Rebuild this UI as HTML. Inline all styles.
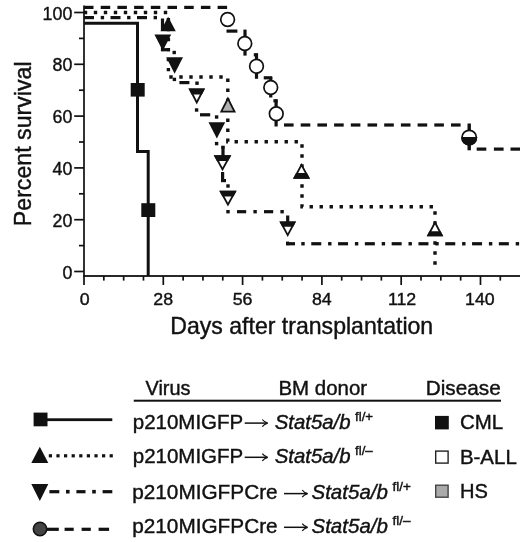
<!DOCTYPE html>
<html><head><meta charset="utf-8"><title>Survival</title>
<style>
html,body{margin:0;padding:0;background:#fff;}
svg{display:block;}
text{font-family:"Liberation Sans",sans-serif;fill:#111;stroke:#111;stroke-width:0.4px;}
</style></head><body>
<svg width="520" height="542" viewBox="0 0 520 542">
<rect width="520" height="542" fill="#fff"/>
<rect x="83.15" y="5.50" width="1.70" height="271.50" fill="#111"/>
<rect x="83.15" y="275.10" width="436.85" height="1.80" fill="#111"/>
<rect x="74.20" y="270.65" width="9.80" height="1.70" fill="#111"/>
<rect x="79.00" y="244.75" width="5.00" height="1.70" fill="#111"/>
<rect x="74.20" y="218.85" width="9.80" height="1.70" fill="#111"/>
<rect x="79.00" y="192.95" width="5.00" height="1.70" fill="#111"/>
<rect x="74.20" y="167.05" width="9.80" height="1.70" fill="#111"/>
<rect x="79.00" y="141.15" width="5.00" height="1.70" fill="#111"/>
<rect x="74.20" y="115.25" width="9.80" height="1.70" fill="#111"/>
<rect x="79.00" y="89.35" width="5.00" height="1.70" fill="#111"/>
<rect x="74.20" y="63.45" width="9.80" height="1.70" fill="#111"/>
<rect x="79.00" y="37.55" width="5.00" height="1.70" fill="#111"/>
<rect x="74.20" y="11.65" width="9.80" height="1.70" fill="#111"/>
<rect x="83.15" y="276.00" width="1.70" height="9.00" fill="#111"/>
<rect x="102.97" y="276.00" width="1.70" height="4.60" fill="#111"/>
<rect x="122.80" y="276.00" width="1.70" height="4.60" fill="#111"/>
<rect x="142.62" y="276.00" width="1.70" height="4.60" fill="#111"/>
<rect x="162.45" y="276.00" width="1.70" height="9.00" fill="#111"/>
<rect x="182.27" y="276.00" width="1.70" height="4.60" fill="#111"/>
<rect x="202.09" y="276.00" width="1.70" height="4.60" fill="#111"/>
<rect x="221.92" y="276.00" width="1.70" height="4.60" fill="#111"/>
<rect x="241.74" y="276.00" width="1.70" height="9.00" fill="#111"/>
<rect x="261.57" y="276.00" width="1.70" height="4.60" fill="#111"/>
<rect x="281.39" y="276.00" width="1.70" height="4.60" fill="#111"/>
<rect x="301.21" y="276.00" width="1.70" height="4.60" fill="#111"/>
<rect x="321.04" y="276.00" width="1.70" height="9.00" fill="#111"/>
<rect x="340.86" y="276.00" width="1.70" height="4.60" fill="#111"/>
<rect x="360.69" y="276.00" width="1.70" height="4.60" fill="#111"/>
<rect x="380.51" y="276.00" width="1.70" height="4.60" fill="#111"/>
<rect x="400.33" y="276.00" width="1.70" height="9.00" fill="#111"/>
<rect x="420.16" y="276.00" width="1.70" height="4.60" fill="#111"/>
<rect x="439.98" y="276.00" width="1.70" height="4.60" fill="#111"/>
<rect x="459.81" y="276.00" width="1.70" height="4.60" fill="#111"/>
<rect x="479.63" y="276.00" width="1.70" height="9.00" fill="#111"/>
<rect x="499.45" y="276.00" width="1.70" height="4.60" fill="#111"/>
<path d="M84,23.2 H137.5 V151.5 H148.2 V276" fill="none" stroke="#111" stroke-width="3"/>
<rect x="130.7" y="83" width="14" height="13.6" fill="#111"/>
<rect x="141.3" y="203.2" width="14" height="13.8" fill="#111"/>
<path d="M84,12.5 H168.4 V77 H227.8 V141.75 H302 V206.75 H435 V266" fill="none" stroke="#111" stroke-width="3.4" stroke-dasharray="3.4 6.6" stroke-dashoffset="0.2"/>
<rect x="84.00" y="5.80" width="9.50" height="3.20" fill="#111"/>
<rect x="100.70" y="5.80" width="9.50" height="3.20" fill="#111"/>
<rect x="117.40" y="5.80" width="9.50" height="3.20" fill="#111"/>
<rect x="134.10" y="5.80" width="9.50" height="3.20" fill="#111"/>
<rect x="150.80" y="5.80" width="9.50" height="3.20" fill="#111"/>
<rect x="167.50" y="5.80" width="9.50" height="3.20" fill="#111"/>
<rect x="184.20" y="5.80" width="9.50" height="3.20" fill="#111"/>
<rect x="200.90" y="5.80" width="9.50" height="3.20" fill="#111"/>
<rect x="217.60" y="5.80" width="9.50" height="3.20" fill="#111"/>
<rect x="226.50" y="29.50" width="10.90" height="3.20" fill="#111"/>
<rect x="243.40" y="29.60" width="3.20" height="26.00" fill="#111"/>
<rect x="254.90" y="53.50" width="3.20" height="25.30" fill="#111"/>
<rect x="253.80" y="53.20" width="4.20" height="3.20" fill="#111"/>
<rect x="263.75" y="76.20" width="8.45" height="3.20" fill="#111"/>
<rect x="269.15" y="77.00" width="3.20" height="20.50" fill="#111"/>
<rect x="274.50" y="99.50" width="3.20" height="27.00" fill="#111"/>
<rect x="273.40" y="99.20" width="4.20" height="3.20" fill="#111"/>
<rect x="284.00" y="123.40" width="9.60" height="3.20" fill="#111"/>
<rect x="300.70" y="123.40" width="9.60" height="3.20" fill="#111"/>
<rect x="317.40" y="123.40" width="9.60" height="3.20" fill="#111"/>
<rect x="334.10" y="123.40" width="9.60" height="3.20" fill="#111"/>
<rect x="350.80" y="123.40" width="9.60" height="3.20" fill="#111"/>
<rect x="367.50" y="123.40" width="9.60" height="3.20" fill="#111"/>
<rect x="384.20" y="123.40" width="9.60" height="3.20" fill="#111"/>
<rect x="400.90" y="123.40" width="9.60" height="3.20" fill="#111"/>
<rect x="417.60" y="123.40" width="9.60" height="3.20" fill="#111"/>
<rect x="434.30" y="123.40" width="9.60" height="3.20" fill="#111"/>
<rect x="451.00" y="123.40" width="9.60" height="3.20" fill="#111"/>
<rect x="467.50" y="123.50" width="3.40" height="26.80" fill="#111"/>
<rect x="476.70" y="147.50" width="9.60" height="3.20" fill="#111"/>
<rect x="493.90" y="147.50" width="9.70" height="3.20" fill="#111"/>
<rect x="510.50" y="147.50" width="9.50" height="3.20" fill="#111"/>
<rect x="84.00" y="16.00" width="10.00" height="3.20" fill="#111"/>
<rect x="110.50" y="16.00" width="10.00" height="3.20" fill="#111"/>
<rect x="137.00" y="16.00" width="10.00" height="3.20" fill="#111"/>
<rect x="100.70" y="15.90" width="3.40" height="3.40" fill="#111"/>
<rect x="127.10" y="15.90" width="3.40" height="3.40" fill="#111"/>
<rect x="153.60" y="15.90" width="3.40" height="3.40" fill="#111"/>
<rect x="160.90" y="18.50" width="3.20" height="12.50" fill="#111"/>
<rect x="160.90" y="45.00" width="3.20" height="6.10" fill="#111"/>
<rect x="161.00" y="48.10" width="9.00" height="3.20" fill="#111"/>
<rect x="172.50" y="50.80" width="3.40" height="3.40" fill="#111"/>
<rect x="172.70" y="77.70" width="3.40" height="3.40" fill="#111"/>
<rect x="179.40" y="81.00" width="10.00" height="3.20" fill="#111"/>
<rect x="195.30" y="81.50" width="3.40" height="3.40" fill="#111"/>
<rect x="194.90" y="108.30" width="3.40" height="3.40" fill="#111"/>
<rect x="200.00" y="113.20" width="10.20" height="3.20" fill="#111"/>
<rect x="214.90" y="115.30" width="3.40" height="3.40" fill="#111"/>
<rect x="214.90" y="141.90" width="3.40" height="3.40" fill="#111"/>
<rect x="221.40" y="146.00" width="3.20" height="11.00" fill="#111"/>
<rect x="221.30" y="145.70" width="3.20" height="3.20" fill="#111"/>
<rect x="221.00" y="172.00" width="3.20" height="10.00" fill="#111"/>
<rect x="221.10" y="179.00" width="4.90" height="3.20" fill="#111"/>
<rect x="226.30" y="184.30" width="3.40" height="3.40" fill="#111"/>
<rect x="226.30" y="210.00" width="3.40" height="3.40" fill="#111"/>
<rect x="237.00" y="210.10" width="9.20" height="3.20" fill="#111"/>
<rect x="253.40" y="210.00" width="3.40" height="3.40" fill="#111"/>
<rect x="264.00" y="210.10" width="9.20" height="3.20" fill="#111"/>
<rect x="280.40" y="210.00" width="3.40" height="3.40" fill="#111"/>
<rect x="286.10" y="215.50" width="3.20" height="7.50" fill="#111"/>
<rect x="286.00" y="241.60" width="3.20" height="3.60" fill="#111"/>
<rect x="286.10" y="242.15" width="8.90" height="3.20" fill="#111"/>
<rect x="301.30" y="242.05" width="3.40" height="3.40" fill="#111"/>
<rect x="311.25" y="242.15" width="10.00" height="3.20" fill="#111"/>
<rect x="328.10" y="242.05" width="3.40" height="3.40" fill="#111"/>
<rect x="338.05" y="242.15" width="10.00" height="3.20" fill="#111"/>
<rect x="354.90" y="242.05" width="3.40" height="3.40" fill="#111"/>
<rect x="364.85" y="242.15" width="10.00" height="3.20" fill="#111"/>
<rect x="381.70" y="242.05" width="3.40" height="3.40" fill="#111"/>
<rect x="391.65" y="242.15" width="10.00" height="3.20" fill="#111"/>
<rect x="408.50" y="242.05" width="3.40" height="3.40" fill="#111"/>
<rect x="418.45" y="242.15" width="10.00" height="3.20" fill="#111"/>
<rect x="435.30" y="242.05" width="3.40" height="3.40" fill="#111"/>
<rect x="445.25" y="242.15" width="10.00" height="3.20" fill="#111"/>
<rect x="462.10" y="242.05" width="3.40" height="3.40" fill="#111"/>
<rect x="472.05" y="242.15" width="10.00" height="3.20" fill="#111"/>
<rect x="488.90" y="242.05" width="3.40" height="3.40" fill="#111"/>
<rect x="498.85" y="242.15" width="10.00" height="3.20" fill="#111"/>
<rect x="515.70" y="242.05" width="3.40" height="3.40" fill="#111"/>
<polygon points="160.50,31.20 175.80,31.20 168.15,16.70" fill="#111"/>
<polygon points="219.80,112.60 236.00,112.60 227.90,96.40" fill="#111"/>
<polygon points="222.71,110.80 233.09,110.80 227.90,100.42" fill="#b0b0b0"/>
<polygon points="293.00,178.75 310.00,178.75 301.50,163.00" fill="#111"/>
<polygon points="296.02,176.95 306.98,176.95 301.50,166.79" fill="#fff"/>
<polygon points="293,178.75 310,178.75 306.90,173 296.10,173" fill="#111"/>
<polygon points="426.75,236.25 443.25,236.25 435.00,220.50" fill="#111"/>
<polygon points="429.72,234.45 440.28,234.45 435.00,224.38" fill="#fff"/>
<polygon points="426.75,236.25 443.25,236.25 440.63,231.25 429.37,231.25" fill="#111"/>
<polygon points="154.40,34.60 171.20,34.60 162.80,50.80" fill="#111"/>
<polygon points="166.25,57.25 183.00,57.25 174.62,73.75" fill="#111"/>
<polygon points="188.50,88.50 205.00,88.50 196.75,104.40" fill="#111"/>
<polygon points="191.46,90.30 202.04,90.30 196.75,100.49" fill="#fff"/>
<polygon points="188.5,88.5 205,88.5 201.94,94.4 191.56,94.4" fill="#111"/>
<polygon points="208.50,122.30 225.20,122.30 216.85,138.50" fill="#111"/>
<polygon points="213.75,155.25 231.25,155.25 222.50,171.25" fill="#111"/>
<polygon points="216.79,157.05 228.21,157.05 222.50,167.50" fill="#fff"/>
<polygon points="213.75,155.25 231.25,155.25 228.11,161 216.89,161" fill="#111"/>
<polygon points="219.30,190.70 236.60,190.70 227.95,206.50" fill="#111"/>
<polygon points="222.34,192.50 233.56,192.50 227.95,202.75" fill="#fff"/>
<polygon points="219.3,190.7 236.6,190.7 233.48,196.4 222.42,196.4" fill="#111"/>
<polygon points="279.40,221.50 296.00,221.50 287.70,237.00" fill="#111"/>
<polygon points="282.41,223.30 292.99,223.30 287.70,233.19" fill="#fff"/>
<polygon points="279.4,221.5 296,221.5 293.22,226.7 282.18,226.7" fill="#111"/>
<circle cx="227.6" cy="19.5" r="6.85" fill="#fff" stroke="#111" stroke-width="1.7"/>
<circle cx="244.8" cy="43.5" r="6.85" fill="#fff" stroke="#111" stroke-width="1.7"/>
<circle cx="256.5" cy="66.25" r="6.85" fill="#fff" stroke="#111" stroke-width="1.7"/>
<circle cx="270.75" cy="87.5" r="6.85" fill="#fff" stroke="#111" stroke-width="1.7"/>
<circle cx="276.25" cy="113.75" r="6.85" fill="#fff" stroke="#111" stroke-width="1.7"/>
<circle cx="469.2" cy="137.5" r="7.2" fill="#fff" stroke="#111" stroke-width="1.7"/>
<path d="M461.2,136.9 L461.2,137.5 A8,8 0 0 0 477.2,137.5 L477.2,136.9 Z" fill="#111"/>
<text transform="translate(62.42,278.5) scale(0.9384,1)" font-size="19">0</text>
<text transform="translate(52.50,226.7) scale(0.9384,1)" font-size="19">20</text>
<text transform="translate(52.50,174.9) scale(0.9384,1)" font-size="19">40</text>
<text transform="translate(52.50,123.1) scale(0.9384,1)" font-size="19">60</text>
<text transform="translate(52.50,71.30000000000001) scale(0.9384,1)" font-size="19">80</text>
<text transform="translate(42.58,19.5) scale(0.9384,1)" font-size="19">100</text>
<text transform="translate(79.69,304.6) scale(1.0458,1)" font-size="17">0</text>
<text transform="translate(153.35,304.6) scale(1.0458,1)" font-size="17">28</text>
<text transform="translate(232.64,304.6) scale(1.0458,1)" font-size="17">56</text>
<text transform="translate(311.94,304.6) scale(1.0458,1)" font-size="17">84</text>
<text transform="translate(387.93,304.6) scale(1.0458,1)" font-size="17">112</text>
<text transform="translate(465.06,304.6) scale(1.0458,1)" font-size="17">140</text>
<text transform="translate(170.30,334.3) scale(1.0035,1)" font-size="23">Days after transplantation</text>
<text transform="translate(30.5,226.21) rotate(-90) scale(1.0086,1)" font-size="23">Percent survival</text>
<rect x="133.75" y="399.70" width="367.25" height="2.00" fill="#111"/>
<text transform="translate(145.50,395) scale(0.9955,1)" font-size="20">Virus</text>
<text transform="translate(278.48,395) scale(1.0238,1)" font-size="20">BM donor</text>
<text transform="translate(425.76,395) scale(1.0375,1)" font-size="20">Disease</text>
<rect x="33.6" y="412.6" width="13.9" height="13.7" fill="#111"/>
<rect x="47.00" y="418.30" width="65.30" height="2.80" fill="#111"/>
<polygon points="31.3,463 48.3,463 39.8,446.7" fill="#111"/>
<rect x="48.81" y="454.20" width="3.20" height="3.20" fill="#111"/>
<rect x="56.41" y="454.20" width="3.20" height="3.20" fill="#111"/>
<rect x="64.01" y="454.20" width="3.20" height="3.20" fill="#111"/>
<rect x="71.61" y="454.20" width="3.20" height="3.20" fill="#111"/>
<rect x="79.21" y="454.20" width="3.20" height="3.20" fill="#111"/>
<rect x="86.81" y="454.20" width="3.20" height="3.20" fill="#111"/>
<rect x="94.42" y="454.20" width="3.20" height="3.20" fill="#111"/>
<rect x="102.02" y="454.20" width="3.20" height="3.20" fill="#111"/>
<rect x="109.62" y="454.20" width="3.20" height="3.20" fill="#111"/>
<polygon points="31.3,483.9 48.3,483.9 39.8,501" fill="#111"/>
<rect x="49.40" y="490.10" width="9.90" height="3.20" fill="#111"/>
<rect x="66.00" y="489.90" width="3.60" height="3.60" fill="#111"/>
<rect x="76.40" y="490.10" width="9.10" height="3.20" fill="#111"/>
<rect x="92.20" y="489.90" width="3.60" height="3.60" fill="#111"/>
<rect x="102.60" y="490.10" width="9.70" height="3.20" fill="#111"/>
<circle cx="40" cy="529" r="6.7" fill="#444" stroke="#111" stroke-width="1.5"/>
<rect x="47.00" y="527.70" width="11.80" height="3.20" fill="#111"/>
<rect x="64.60" y="527.70" width="9.10" height="3.20" fill="#111"/>
<rect x="81.60" y="527.70" width="9.20" height="3.20" fill="#111"/>
<rect x="98.60" y="527.70" width="10.50" height="3.20" fill="#111"/>
<text transform="translate(132.72,428.8) scale(1.0260,1)" font-size="20">p210MIGFP</text>
<path d="M244.7,423.1 H266.8" stroke="#111" stroke-width="1.5" fill="none"/>
<path d="M262.3,419.5 Q264.3,422.3 267.8,423.1 Q264.3,423.90000000000003 262.3,426.70000000000005" stroke="#111" stroke-width="1.2" fill="none"/>
<text transform="translate(274.70,428.8) scale(1.0191,1)" font-size="20" font-style="italic">Stat5a/b</text>
<text transform="translate(355.00,420.7) scale(0.9837,1)" font-size="13.5">fl/+</text>
<text transform="translate(132.72,463) scale(1.0260,1)" font-size="20">p210MIGFP</text>
<path d="M244.7,457.3 H266.8" stroke="#111" stroke-width="1.5" fill="none"/>
<path d="M262.3,453.7 Q264.3,456.5 267.8,457.3 Q264.3,458.1 262.3,460.90000000000003" stroke="#111" stroke-width="1.2" fill="none"/>
<text transform="translate(274.70,463) scale(1.0191,1)" font-size="20" font-style="italic">Stat5a/b</text>
<text transform="translate(355.00,454.9) scale(0.9837,1)" font-size="13.5">fl/–</text>
<text transform="translate(132.21,499.2) scale(1.0390,1)" font-size="20">p210MIGFPCre</text>
<path d="M284,493.59999999999997 H306.7" stroke="#111" stroke-width="1.5" fill="none"/>
<path d="M302.2,489.99999999999994 Q304.2,492.79999999999995 307.7,493.59999999999997 Q304.2,494.4 302.2,497.2" stroke="#111" stroke-width="1.2" fill="none"/>
<text transform="translate(311.50,499.2) scale(1.0258,1)" font-size="20" font-style="italic">Stat5a/b</text>
<text transform="translate(392.50,491.09999999999997) scale(1.0000,1)" font-size="13.5">fl/+</text>
<text transform="translate(132.21,532.9) scale(1.0390,1)" font-size="20">p210MIGFPCre</text>
<path d="M284,527.3 H306.7" stroke="#111" stroke-width="1.5" fill="none"/>
<path d="M302.2,523.6999999999999 Q304.2,526.5 307.7,527.3 Q304.2,528.0999999999999 302.2,530.9" stroke="#111" stroke-width="1.2" fill="none"/>
<text transform="translate(311.50,532.9) scale(1.0258,1)" font-size="20" font-style="italic">Stat5a/b</text>
<text transform="translate(392.50,524.8) scale(1.0000,1)" font-size="13.5">fl/–</text>
<rect x="435" y="415.9" width="13.8" height="13.5" fill="#111"/>
<rect x="435.7" y="451.1" width="12.4" height="12" fill="#fff" stroke="#222" stroke-width="1.4"/>
<rect x="435.7" y="485.2" width="12.4" height="12" fill="#aaa" stroke="#444" stroke-width="1.4"/>
<text transform="translate(459.88,428.9) scale(1.0242,1)" font-size="20">CML</text>
<text transform="translate(459.88,463.5) scale(1.0246,1)" font-size="20">B-ALL</text>
<text transform="translate(459.89,497.9) scale(1.0059,1)" font-size="20">HS</text>
</svg>
</body></html>
